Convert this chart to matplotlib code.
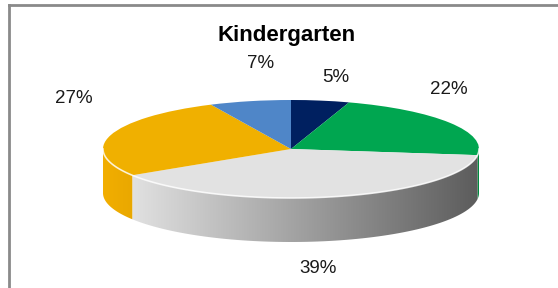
import matplotlib
matplotlib.use("Agg")
import matplotlib.pyplot as plt
import numpy as np
from matplotlib.patches import Polygon
from matplotlib.lines import Line2D
from matplotlib.colors import to_rgb

plt.rcParams['font.family'] = ['Liberation Sans', 'DejaVu Sans']

# data
title = "Kindergarten"
labels = ["5%", "22%", "39%", "27%", "7%"]
values = [5, 22, 39, 27, 7]
top_colors = ["#002060", "#00A650", "#E2E2E2", "#F0B000", "#4F86C8"]
side_left = ["#002A70", "#00B050", "#ECECEC", "#F2AE00", "#4A7EBC"]
side_right = ["#001540", "#008A3E", "#5C5C5C", "#806000", "#2A4E7C"]
# label offsets (pixels) from the rim point at each slice's middle angle
label_offsets = [(15, 23), (-1, 33), (-14, -72), (-37, 37), (11, 38)]

W, H = 558, 288
cx, cy = 291, 149      # centre of the top face, pixels from top-left
rx, ry = 188, 49       # half axes of the top ellipse
depth = 44 / ry        # thickness of the disc, in pie units

fig = plt.figure(figsize=(W / 100, H / 100), dpi=100)
ax = fig.add_axes([0, 0, 1, 1])

wedges, _ = ax.pie(values, colors=top_colors, startangle=90, counterclock=False,
                   wedgeprops=dict(linewidth=0, zorder=3))

# side of the disc, only the front half (180..360 deg) can be seen
grad = np.linspace(0, 1, 256)
for w, cl, cr in zip(wedges, side_left, side_right):
    for k in (-360, 0, 360):
        a = max(w.theta1 + k, 180)
        b = min(w.theta2 + k, 360)
        if b <= a:
            continue
        t = np.radians(np.linspace(a, b, 80))
        x, y = np.cos(t), np.sin(t)
        px = np.concatenate([x, x[::-1]])
        py = np.concatenate([y, y[::-1] - depth])
        poly = Polygon(np.column_stack([px, py]), closed=True,
                       facecolor='none', edgecolor='none', transform=ax.transData)
        ax.add_patch(poly)
        img = (1 - grad)[:, None] * np.array(to_rgb(cl)) + grad[:, None] * np.array(to_rgb(cr))
        im = ax.imshow(img[None, :, :], extent=(-1, 1, -1 - depth, 0), aspect='auto',
                       zorder=1, interpolation='bilinear')
        im.set_clip_path(poly)

# light rim on the front edge of the top face
t = np.radians(np.linspace(180, 360, 120))
ax.plot(np.cos(t), np.sin(t), color='white', lw=1.2, alpha=0.8, zorder=4)

# percent labels
for w, lab, off in zip(wedges, labels, label_offsets):
    m = np.radians((w.theta1 + w.theta2) / 2)
    ax.annotate(lab, (np.cos(m), np.sin(m)), xytext=off, textcoords='offset pixels',
                ha='center', va='center', fontsize=13.5, color='#1a1a1a')

ax.set_aspect('auto')
ax.set_xlim(-cx / rx, (W - cx) / rx)
ax.set_ylim(-(H - cy) / ry, cy / ry)
ax.axis('off')

fig.text(287 / W, 1 - 36 / H, title, ha='center', va='center',
         fontsize=16, fontweight='bold')

# frame (only top and left edges are inside the picture)
fig.add_artist(Line2D([9 / W, 1], [1 - 5 / H, 1 - 5 / H], transform=fig.transFigure,
                      color='#8a8a8a', lw=2))
fig.add_artist(Line2D([9 / W, 9 / W], [0, 1 - 5 / H], transform=fig.transFigure,
                      color='#8a8a8a', lw=2))

fig.savefig("out.png", dpi=100)
